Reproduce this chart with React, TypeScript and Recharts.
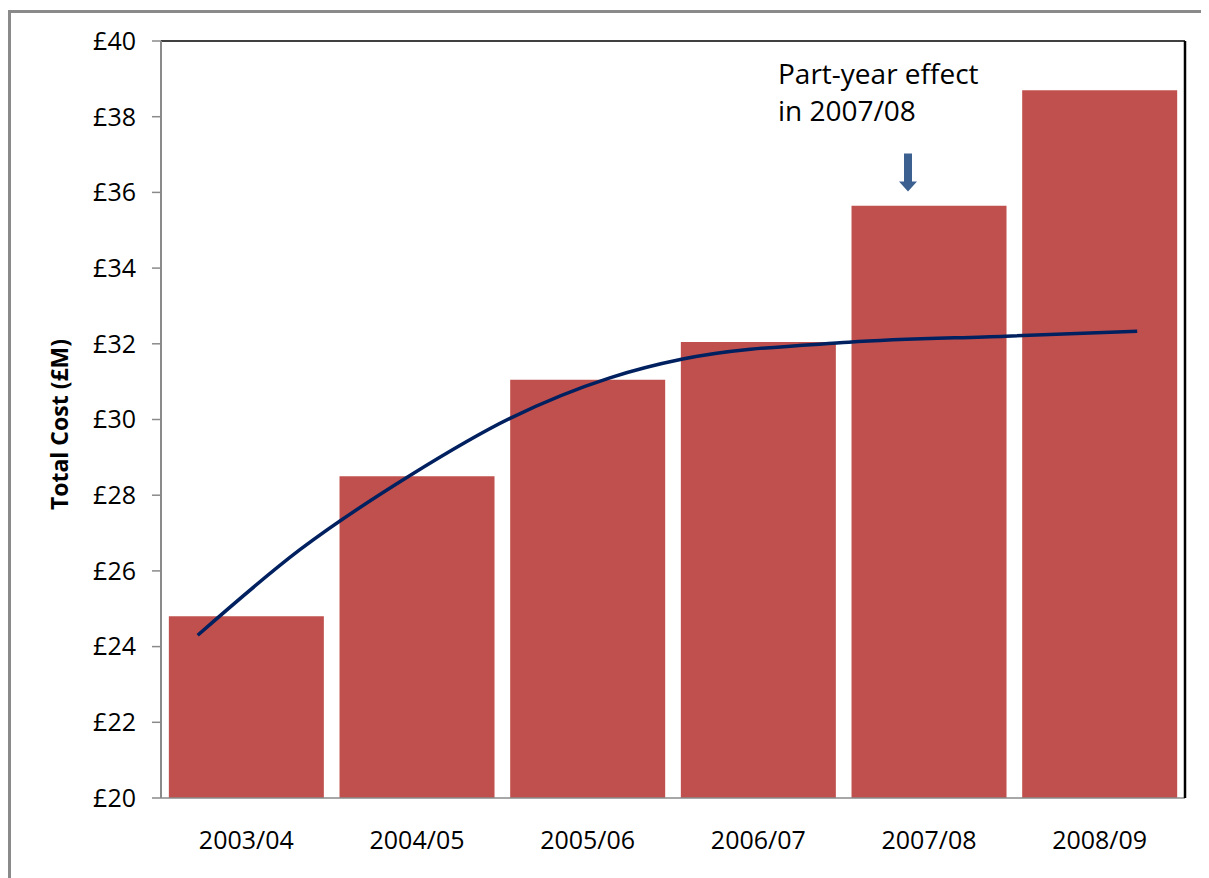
import {
  Bar,
  ComposedChart,
  Label,
  Line,
  ReferenceDot,
  ReferenceLine,
  XAxis,
  YAxis,
} from "recharts";

const years = ["2003/04", "2004/05", "2005/06", "2006/07", "2007/08", "2008/09"];
const totalCost = [24.8, 28.5, 31.05, 32.05, 35.65, 38.7];

// smoothed trend (x in category widths from the left edge)
const trendX = [0.215, 0.814, 1.459, 2.045, 2.63, 3.05, 4.03, 4.95, 5.72];
const trendY = [24.3, 26.56, 28.52, 30.03, 31.1, 31.59, 32.04, 32.2, 32.33];

const yTicks = [20, 22, 24, 26, 28, 30, 32, 34, 36, 38, 40];
const noteLines = ["Part-year effect", "in 2007/08"];
const noteYear = "2007/08";
const noteValue = 36;

const barData = years.map((year, i) => ({ year, cost: totalCost[i] }));
const trendData = trendX.map((x, i) => ({ x, trend: trendY[i] }));

const FONT = "'Open Sans', sans-serif";

if (typeof document !== "undefined") {
  document.body.style.overflow = "hidden";
}

const Annotation = (props: any) => {
  const { cx, cy } = props;
  if (cx == null || cy == null) return null;
  const ax = cx - 21;
  return (
    <g>
      {noteLines.map((t, i) => (
        <text
          key={t}
          x={cx - 151}
          y={cy - 108 + i * 37}
          fontSize={28}
          fontFamily={FONT}
          fill="#000"
        >
          {t}
        </text>
      ))}
      <path
        d={`M${ax - 4},${cy - 39} L${ax + 4},${cy - 39} L${ax + 4},${cy - 11} L${ax + 9},${cy - 11} L${ax},${cy - 1} L${ax - 9},${cy - 11} L${ax - 4},${cy - 11} Z`}
        fill="#3c6191"
      />
    </g>
  );
};

const YTitle = (props: any) => {
  const { x, y, height } = props.viewBox;
  const cx = x + 48;
  const cy = y + height / 2 + 5;
  return (
    <text
      x={cx}
      y={cy}
      transform={`rotate(-90, ${cx}, ${cy})`}
      textAnchor="middle"
      dominantBaseline="central"
      fontSize={23}
      fontWeight="bold"
      fontFamily={FONT}
      fill="#000"
    >
      Total Cost (£M)
    </text>
  );
};

export default function App() {
  return (
    <div
      style={{
        marginTop: 2,
        width: 1240,
        height: 900,
        borderTop: "3px solid #8a8a8a",
        borderLeft: "3px solid #8a8a8a",
        fontFamily: FONT,
      }}
    >
      <ComposedChart
        width={1190}
        height={860}
        data={barData}
        margin={{ top: 28, right: 15, left: 0, bottom: 15 }}
        barCategoryGap="4.6%"
      >
        <XAxis
          dataKey="year"
          height={60}
          axisLine={{ stroke: "#8a8a8a", strokeWidth: 1.5 }}
          tickLine={false}
          tickSize={0}
          tickMargin={33}
          tick={{ fill: "#000", fontSize: 25, fontFamily: FONT }}
        />
        <XAxis
          xAxisId="line"
          type="number"
          dataKey="x"
          domain={[0, 6]}
          allowDataOverflow
          hide
        />
        <YAxis
          yAxisId="cost"
          width={150}
          domain={[20, 40]}
          ticks={yTicks}
          interval={0}
          allowDataOverflow
          tickFormatter={(v) => `£${v}`}
          axisLine={{ stroke: "#8a8a8a", strokeWidth: 2 }}
          tickLine={{ stroke: "#8a8a8a", strokeWidth: 1.5 }}
          tickSize={9}
          tickMargin={16}
          tick={{ fill: "#000", fontSize: 25, fontFamily: FONT }}
        >
          <Label content={<YTitle />} position="insideLeft" />
        </YAxis>
        <YAxis
          yAxisId="frame"
          orientation="right"
          width={1}
          domain={[0, 1]}
          tick={false}
          tickLine={false}
          axisLine={{ stroke: "#000", strokeWidth: 2.5 }}
        />
        <ReferenceLine yAxisId="cost" y={40} stroke="#000" strokeWidth={1.5} />
        <Bar
          yAxisId="cost"
          dataKey="cost"
          fill="#C0504D"
          isAnimationActive={false}
        />
        <Line
          xAxisId="line"
          yAxisId="cost"
          data={trendData}
          dataKey="trend"
          type="monotone"
          stroke="#002060"
          strokeWidth={3.5}
          dot={false}
          activeDot={false}
          isAnimationActive={false}
        />
        <ReferenceDot
          yAxisId="cost"
          x={noteYear}
          y={noteValue}
          shape={(p: any) => <Annotation {...p} />}
        />
      </ComposedChart>
    </div>
  );
}
